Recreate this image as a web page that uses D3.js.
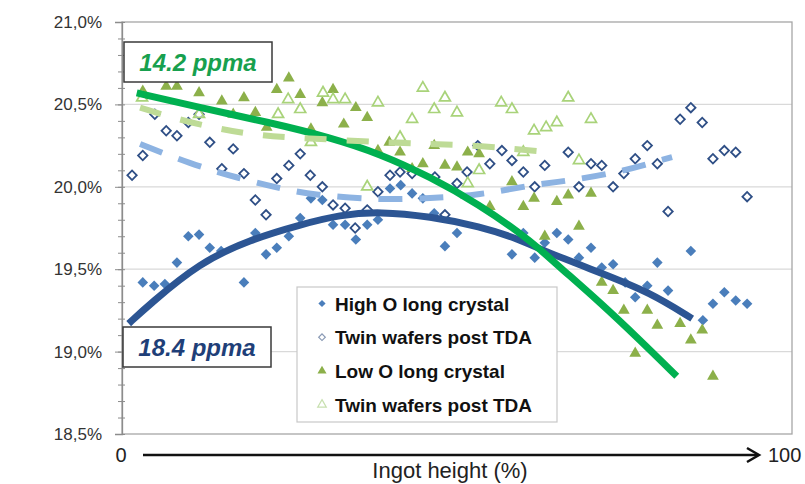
<!DOCTYPE html>
<html>
<head>
<meta charset="utf-8">
<script src="https://cdn.jsdelivr.net/npm/d3@7"></script>
<style>
  body { margin: 0; background: #fff; }
  svg { display: block; font-family: "Liberation Sans", Arial, sans-serif; }
</style>
</head>
<body>
<svg width="805" height="484"></svg>
<script>
// x = ingot height (0-100), y = value in %
var highO = [
  [3.1, 19.42], [4.8, 19.40], [6.4, 19.41], [8.2, 19.54], [9.9, 19.70], [11.5, 19.71],
  [13.1, 19.63], [14.8, 19.61], [18.2, 19.42], [19.9, 19.72], [21.5, 19.59], [23.1, 19.63],
  [24.9, 19.70], [26.6, 19.81], [28.2, 19.93], [29.9, 19.92], [31.5, 19.77], [33.3, 19.77],
  [34.9, 19.68], [36.6, 19.77], [38.2, 19.80], [40.0, 19.99], [41.6, 20.01], [43.3, 19.96],
  [44.9, 19.93], [46.6, 19.84], [48.2, 19.64], [50.0, 19.72], [58.2, 19.59], [59.9, 19.72],
  [61.6, 19.57], [63.1, 19.66], [64.9, 19.72], [66.6, 19.68], [68.2, 19.57], [70.0, 19.63],
  [71.6, 19.51], [73.3, 19.53], [75.1, 19.42], [76.6, 19.33], [78.4, 19.40], [79.9, 19.54],
  [81.5, 19.37], [84.9, 19.61], [86.7, 19.19], [88.2, 19.29], [89.9, 19.36], [91.6, 19.31],
  [93.3, 19.29]
];

var twinHigh = [
  [1.5, 20.07], [3.1, 20.19], [4.9, 20.44], [6.6, 20.34], [8.2, 20.31], [9.9, 20.39],
  [11.5, 20.44], [13.1, 20.27], [14.9, 20.11], [16.6, 20.23], [18.2, 20.08], [19.9, 19.92],
  [21.5, 19.83], [23.1, 20.05], [24.9, 20.13], [26.6, 20.20], [28.1, 20.07], [29.9, 20.00],
  [31.5, 19.89], [33.3, 19.87], [34.8, 19.75], [36.6, 19.86], [38.2, 19.97], [40.0, 20.07],
  [41.5, 20.09], [43.3, 20.08], [46.7, 20.06], [48.2, 19.83], [50.0, 20.02], [51.5, 20.09],
  [53.1, 20.25], [54.9, 20.14], [56.7, 20.22], [58.2, 20.16], [59.9, 20.09], [61.6, 20.00],
  [63.1, 20.13], [66.6, 20.21], [68.2, 20.00], [70.0, 20.14], [71.6, 20.13], [73.3, 20.00],
  [74.9, 20.08], [76.6, 20.17], [78.4, 20.25], [79.9, 20.14], [81.5, 19.85], [83.3, 20.41],
  [84.9, 20.48], [86.6, 20.39], [88.2, 20.17], [89.9, 20.22], [91.6, 20.21], [93.3, 19.94]
];

var lowO = [
  [3.1, 20.58], [6.6, 20.61], [8.2, 20.61], [11.5, 20.57], [14.9, 20.52], [16.6, 20.44],
  [18.2, 20.54], [19.9, 20.45], [21.6, 20.36], [23.1, 20.59], [24.9, 20.66], [26.6, 20.56],
  [28.2, 20.35], [29.9, 20.51], [31.5, 20.59], [33.1, 20.38], [34.9, 20.48], [36.6, 20.42],
  [38.2, 20.22], [39.9, 20.27], [41.5, 20.21], [43.3, 20.11], [44.9, 20.14], [46.6, 20.25],
  [48.2, 20.13], [50.0, 20.12], [51.6, 20.21], [53.3, 20.20], [54.9, 19.88], [58.2, 20.03],
  [59.9, 19.88], [61.5, 19.93], [63.1, 19.70], [64.9, 19.91], [66.6, 19.95], [68.2, 19.76],
  [70.0, 19.96], [71.6, 19.42], [73.3, 19.37], [74.9, 19.25], [76.6, 18.99], [78.4, 19.25],
  [79.9, 19.16], [83.3, 19.17], [84.9, 19.07], [86.6, 19.13], [88.2, 18.85]
];

var twinLow = [
  [3.0, 20.54], [11.5, 20.44], [23.3, 20.44], [24.8, 20.53], [26.6, 20.47], [28.2, 20.27],
  [30.0, 20.57], [31.5, 20.53], [33.3, 20.53], [36.6, 20.00], [38.2, 20.51], [41.5, 20.30],
  [43.3, 20.41], [44.9, 20.60], [46.6, 20.47], [48.2, 20.54], [50.0, 20.45], [51.6, 20.02],
  [53.3, 20.10], [56.6, 20.51], [58.2, 20.47], [59.9, 20.21], [61.5, 20.34], [63.3, 20.36],
  [64.9, 20.39], [66.6, 20.54], [68.2, 20.16], [70.0, 20.41]
];

// trend lines
var trendHigh = [
  [1.0, 19.17], [4.2, 19.29], [11.6, 19.54], [19.1, 19.68], [26.6, 19.77], [32.5, 19.83],
  [38.5, 19.85], [46.0, 19.82], [53.4, 19.76], [59.4, 19.68], [62.4, 19.62], [71.3, 19.48],
  [78.8, 19.36], [85.1, 19.20]
];
var trendTwinHigh = [
  [2.7, 20.26], [10.1, 20.14], [17.6, 20.05], [23.6, 19.99], [28.5, 19.95], [38.5, 19.92],
  [46.0, 19.93], [53.4, 19.95], [60.9, 20.01], [67.3, 20.04], [74.3, 20.09], [80.3, 20.16],
  [82.1, 20.18]
];
var trendLow = [
  [2.2, 20.57], [11.6, 20.48], [22.1, 20.39], [31.0, 20.30], [38.5, 20.20], [46.0, 20.06],
  [53.4, 19.89], [59.4, 19.72], [62.4, 19.62], [65.4, 19.51], [71.3, 19.30], [77.3, 19.07],
  [82.8, 18.85]
];
var trendTwinLow = [
  [2.7, 20.48], [11.6, 20.37], [20.6, 20.31], [25.1, 20.30], [38.5, 20.27], [46.0, 20.26],
  [53.4, 20.25], [60.9, 20.22], [64.2, 20.21]
];

var yTicks = [18.5, 19.0, 19.5, 20.0, 20.5, 21.0];
var xEnds = ["0", "100"];
var xTitle = "Ingot height (%)";
var legendLabels = ["High O long crystal", "Twin wafers post TDA", "Low O long crystal", "Twin wafers post TDA"];
var ppmaLabels = ["14.2 ppma", "18.4 ppma"];

var svg = d3.select("svg");

var x = d3.scaleLinear().domain([0, 100]).range([122, 792]);
var y = d3.scaleLinear().domain([18.5, 21]).range([434, 22]);

var comma = d3.formatLocale({decimal: ",", thousands: ".", grouping: [3], currency: ["", ""]});
var fmt = comma.format(".1f");

var colHigh = "#4a7ebb", colTwinHigh = "#2f4f86", colLow = "#8cb04a", colTwinLow = "#a9d37a";

// gridlines
svg.append("g").selectAll("line")
    .data(yTicks.slice(1, -1))
    .enter().append("line")
    .attr("x1", x(0)).attr("x2", x(100))
    .attr("y1", d => y(d)).attr("y2", d => y(d))
    .attr("stroke", "#d9d9d9").attr("stroke-width", 1.2);

// plot frame
svg.append("rect")
    .attr("x", x(0)).attr("y", y(21))
    .attr("width", x(100) - x(0)).attr("height", y(18.5) - y(21))
    .attr("fill", "none").attr("stroke", "#a6a6a6").attr("stroke-width", 1.3);

// y axis with minor ticks
svg.append("g")
    .attr("transform", "translate(" + (x(0) + 3) + ",0)")
    .call(d3.axisLeft(y).ticks(25).tickSize(7).tickFormat(""))
    .call(g => g.select(".domain").remove())
    .call(g => g.selectAll("line").attr("stroke", "#8c8c8c"));

var yAxis = svg.append("g")
    .attr("transform", "translate(" + x(0) + ",0)")
    .call(d3.axisLeft(y).tickValues(yTicks).tickSize(7).tickPadding(13).tickFormat(d => fmt(d) + "%"));
yAxis.select(".domain").attr("stroke", "#8c8c8c").attr("stroke-width", 1.3);
yAxis.selectAll(".tick line").attr("stroke", "#8c8c8c");
yAxis.selectAll(".tick text")
    .attr("fill", "#333").style("font-size", "17px")
    .style("font-family", "Liberation Sans, Arial, sans-serif");

// scatter markers
var diamond = d3.symbol().type(d3.symbolSquare).size(56);
var triangle = d3.symbol().type(d3.symbolTriangle).size(60);

svg.append("g").selectAll("path")
    .data(highO).enter().append("path")
    .attr("d", diamond)
    .attr("transform", d => "translate(" + x(d[0]) + "," + y(d[1]) + ") rotate(45)")
    .attr("fill", colHigh);

svg.append("g").selectAll("path")
    .data(twinHigh).enter().append("path")
    .attr("d", d3.symbol().type(d3.symbolSquare).size(44))
    .attr("transform", d => "translate(" + x(d[0]) + "," + y(d[1]) + ") rotate(45)")
    .attr("fill", "#fff").attr("stroke", colTwinHigh).attr("stroke-width", 1.8);

svg.append("g").selectAll("path")
    .data(lowO).enter().append("path")
    .attr("d", triangle)
    .attr("transform", d => "translate(" + x(d[0]) + "," + y(d[1]) + ")")
    .attr("fill", colLow);

svg.append("g").selectAll("path")
    .data(twinLow).enter().append("path")
    .attr("d", d3.symbol().type(d3.symbolTriangle).size(52))
    .attr("transform", d => "translate(" + x(d[0]) + "," + y(d[1]) + ")")
    .attr("fill", "#fff").attr("fill-opacity", 0.6)
    .attr("stroke", colTwinLow).attr("stroke-width", 1.7);

// trend lines
var line = d3.line()
    .x(d => x(d[0]))
    .y(d => y(d[1]))
    .curve(d3.curveBasis);

var trends = [
    {pts: trendHigh, color: "#2c5593", width: 7, dash: null},
    {pts: trendTwinHigh, color: "#8db3e2", width: 6, dash: "24,17"},
    {pts: trendLow, color: "#00b050", width: 7, dash: null},
    {pts: trendTwinLow, color: "#bedb96", width: 6, dash: "22,20"}
];
svg.append("g").selectAll("path")
    .data(trends).enter().append("path")
    .attr("d", d => line(d.pts))
    .attr("fill", "none")
    .attr("stroke", d => d.color)
    .attr("stroke-width", d => d.width)
    .attr("stroke-dasharray", d => d.dash);

// ppma labels
var boxes = [
    {text: ppmaLabels[0], x0: 124, y0: 42, color: "#17a04e"},
    {text: ppmaLabels[1], x0: 123, y0: 327, color: "#1f3f78"}
];
var box = svg.append("g").selectAll("g")
    .data(boxes).enter().append("g")
    .attr("transform", d => "translate(" + d.x0 + "," + d.y0 + ")");
box.append("rect")
    .attr("width", 148).attr("height", 40)
    .attr("fill", "#fff").attr("stroke", "#3a3a3a").attr("stroke-width", 1.5);
box.append("text")
    .attr("x", 74).attr("y", 29)
    .attr("text-anchor", "middle")
    .style("font-size", "24px").style("font-weight", "bold").style("font-style", "italic")
    .attr("fill", d => d.color)
    .text(d => d.text);

// legend
var legend = svg.append("g").attr("transform", "translate(297,287)");
legend.append("rect")
    .attr("width", 260).attr("height", 135)
    .attr("fill", "#fff").attr("stroke", "#c8c8c8").attr("stroke-width", 1.2);

var legendMarks = [
    {shape: d3.symbolSquare, size: 26, rot: 45, fill: colHigh, stroke: "none"},
    {shape: d3.symbolSquare, size: 22, rot: 45, fill: "#fff", stroke: "#8a9ab5"},
    {shape: d3.symbolTriangle, size: 36, rot: 0, fill: colLow, stroke: "none"},
    {shape: d3.symbolTriangle, size: 32, rot: 0, fill: "#fff", stroke: "#c8e0b0"}
];
var item = legend.selectAll(".item")
    .data(legendLabels).enter().append("g")
    .attr("class", "item")
    .attr("transform", (d, i) => "translate(0," + (16.5 + i * 33.7) + ")");
item.append("path")
    .attr("d", (d, i) => d3.symbol().type(legendMarks[i].shape).size(legendMarks[i].size)())
    .attr("transform", (d, i) => "translate(25,0) rotate(" + legendMarks[i].rot + ")")
    .attr("fill", (d, i) => legendMarks[i].fill)
    .attr("stroke", (d, i) => legendMarks[i].stroke)
    .attr("stroke-width", 1.2);
item.append("text")
    .attr("x", 38).attr("y", 7)
    .style("font-size", "19px").style("font-weight", "bold")
    .attr("fill", "#111")
    .text(d => d);

// x axis arrow
var ax = svg.append("g");
ax.append("line")
    .attr("x1", 143).attr("x2", 758).attr("y1", 455).attr("y2", 455)
    .attr("stroke", "#111").attr("stroke-width", 2.5);
ax.append("path")
    .attr("d", "M747,448 L759,455 L747,462")
    .attr("fill", "none").attr("stroke", "#111").attr("stroke-width", 2.5);
ax.selectAll("text.end")
    .data(xEnds).enter().append("text")
    .attr("class", "end")
    .attr("x", (d, i) => i ? 768 : 121)
    .attr("y", 462)
    .attr("text-anchor", (d, i) => i ? "start" : "middle")
    .style("font-size", "20px").attr("fill", "#222")
    .text(d => d);
ax.append("text")
    .attr("x", 450).attr("y", 478)
    .attr("text-anchor", "middle")
    .style("font-size", "22px").attr("fill", "#222")
    .text(xTitle);
</script>
</body>
</html>
